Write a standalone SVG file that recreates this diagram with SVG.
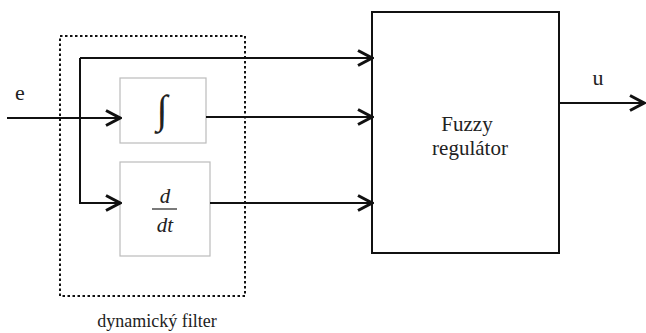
<svg xmlns="http://www.w3.org/2000/svg" width="646" height="333" viewBox="0 0 646 333">
<defs>
<marker id="arr" viewBox="0 0 18 18" refX="16" refY="9" markerWidth="18" markerHeight="18" markerUnits="userSpaceOnUse" orient="auto">
<path d="M2,1.5 L16,9 L2,16.5" fill="none" stroke="#111" stroke-width="3"/>
</marker>
<style>
.c{fill:none;stroke:#111;stroke-width:2}
.a{marker-end:url(#arr)}
.g{fill:#fff;stroke:#bbb;stroke-width:1.2}
text{font-family:'Liberation Serif','Times New Roman',serif;fill:#222}
</style>
</defs>
<rect width="646" height="333" fill="#fff"/>
<g id="filter">
<rect x="60" y="36" width="185" height="260" fill="none" stroke="#111" stroke-width="2" stroke-dasharray="2.5,2.5"/>
<text x="157" y="327" font-size="18" text-anchor="middle">dynamický filter</text>
</g>
<g id="integrator">
<rect class="g" x="120" y="78" width="86" height="65"/>
<text x="162" y="123" font-size="40" font-style="italic" text-anchor="middle">∫</text>
</g>
<g id="derivative">
<rect class="g" x="120" y="162" width="90" height="94"/>
<text x="165" y="203" font-size="21" font-style="italic" text-anchor="middle">d</text>
<line x1="152" y1="209" x2="177" y2="209" stroke="#222" stroke-width="1.2"/>
<text x="165" y="232" font-size="21" font-style="italic" text-anchor="middle">dt</text>
</g>
<g id="fuzzy">
<rect x="372" y="12" width="187" height="241" fill="#fff" stroke="#111" stroke-width="2"/>
<text x="467" y="131" font-size="21" text-anchor="middle">Fuzzy</text>
<text x="470" y="155" font-size="21" text-anchor="middle">regulátor</text>
</g>
<g id="labels">
<text x="20" y="100" font-size="22" text-anchor="middle">e</text>
<text x="598" y="85" font-size="22" text-anchor="middle">u</text>
</g>
<g id="connectors">
<path class="c a" d="M7,118 H120"/>
<path class="c" d="M80,118 V58"/>
<path class="c a" d="M80,58 H372"/>
<path class="c a" d="M80,118 V203 H120"/>
<path class="c a" d="M206,117 H372"/>
<path class="c a" d="M210,203 H372"/>
<path class="c a" d="M559,103 H644"/>
</g>
</svg>
